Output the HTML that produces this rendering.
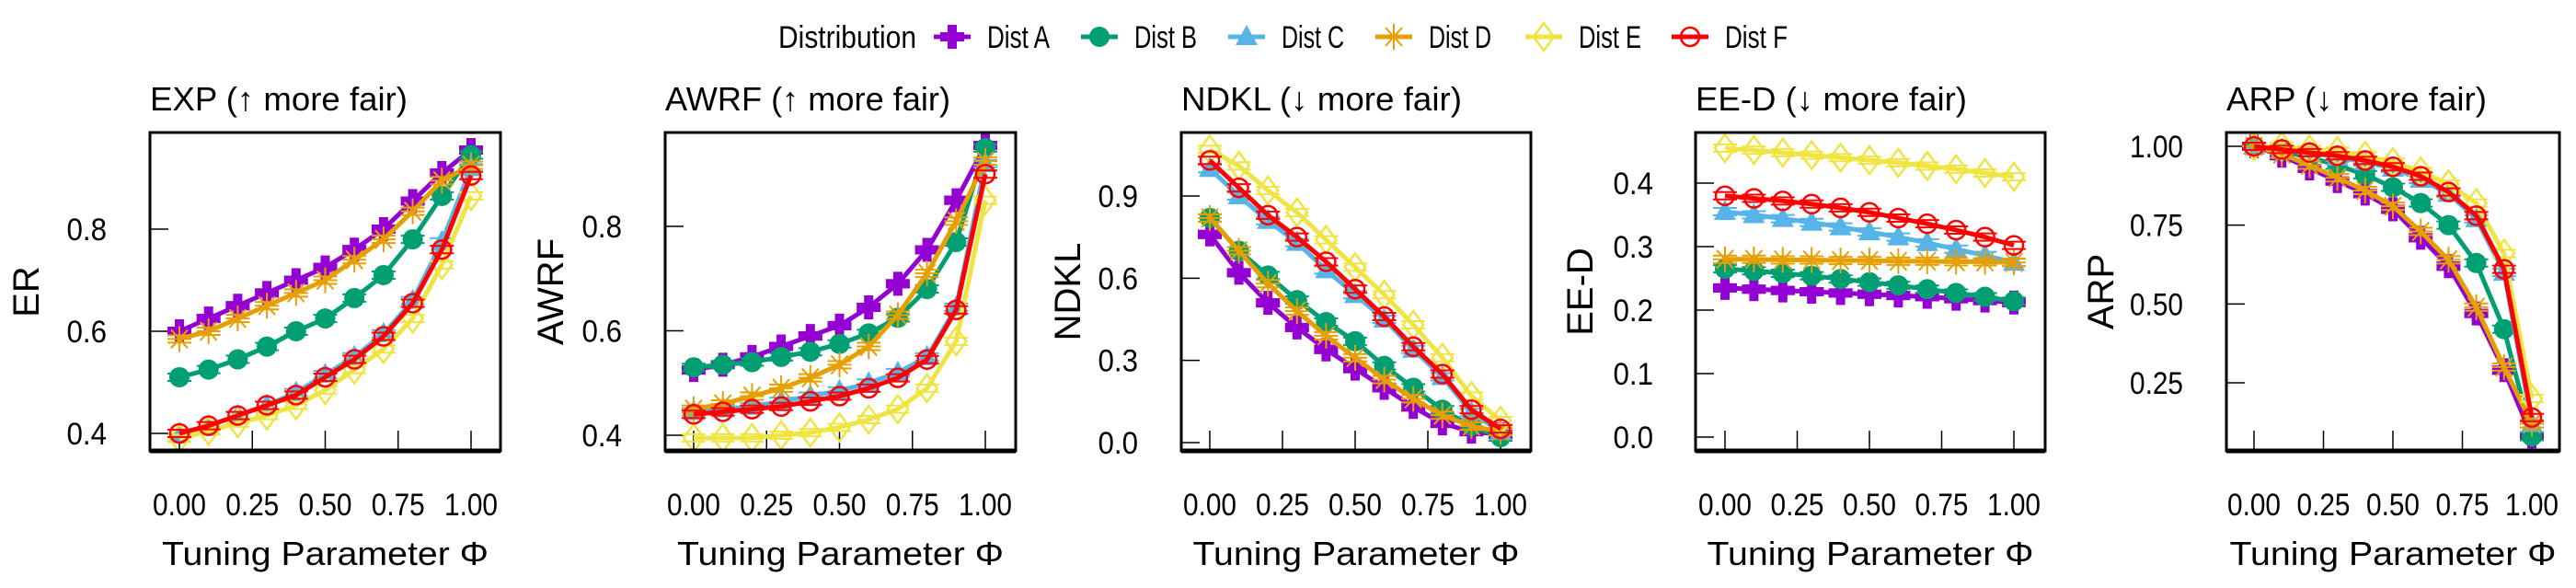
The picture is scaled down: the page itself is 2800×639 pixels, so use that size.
<!DOCTYPE html>
<html><head><meta charset="utf-8"><style>
html,body{margin:0;padding:0;background:#fff;}
svg{display:block;font-family:"Liberation Sans",sans-serif;}
</style></head><body>
<svg id="chart" width="2800" height="639" viewBox="0 0 2800 639" xmlns="http://www.w3.org/2000/svg">
<g id="legend"></g>
<g id="panels"></g>
</svg>
<script>
const phi = [0,0.1,0.2,0.3,0.4,0.5,0.6,0.7,0.8,0.9,1.0];
const seriesNames = ["Dist A","Dist B","Dist C","Dist D","Dist E","Dist F"];
const xTicks = [0,0.25,0.5,0.75,1.0];
const xTickLabels = ["0.00","0.25","0.50","0.75","1.00"];

const erA=[0.60,0.625,0.65,0.675,0.70,0.725,0.76,0.80,0.855,0.91,0.955];
const erB=[0.51,0.525,0.545,0.57,0.60,0.625,0.665,0.71,0.78,0.865,0.945];
const erC=[0.40,0.415,0.435,0.455,0.48,0.515,0.55,0.595,0.66,0.775,0.92];
const erD=[0.585,0.60,0.625,0.65,0.675,0.70,0.74,0.78,0.835,0.895,0.925];
const erE=[0.39,0.405,0.42,0.435,0.455,0.485,0.525,0.565,0.625,0.73,0.865];
const erF=[0.40,0.415,0.435,0.455,0.475,0.51,0.545,0.59,0.655,0.76,0.905];

const awA=[0.525,0.535,0.55,0.57,0.59,0.61,0.645,0.69,0.755,0.85,0.955];
const awB=[0.53,0.535,0.54,0.55,0.56,0.575,0.595,0.625,0.68,0.77,0.95];
const awC=[0.445,0.45,0.455,0.465,0.475,0.485,0.50,0.52,0.55,0.645,0.92];
const awD=[0.45,0.46,0.475,0.49,0.51,0.535,0.57,0.63,0.71,0.81,0.925];
const awE=[0.395,0.395,0.395,0.40,0.405,0.415,0.43,0.45,0.49,0.58,0.85];
const awF=[0.44,0.445,0.45,0.455,0.465,0.475,0.49,0.51,0.545,0.64,0.90];

const ndA=[0.76,0.62,0.51,0.42,0.34,0.27,0.20,0.13,0.07,0.04,0.03];
const ndB=[0.82,0.70,0.61,0.52,0.44,0.37,0.28,0.20,0.12,0.06,0.02];
const ndC=[1.00,0.90,0.81,0.73,0.63,0.54,0.45,0.34,0.24,0.11,0.04];
const ndD=[0.82,0.70,0.58,0.48,0.39,0.31,0.23,0.16,0.10,0.06,0.04];
const ndE=[1.07,1.01,0.92,0.84,0.74,0.64,0.54,0.43,0.31,0.17,0.08];
const ndF=[1.03,0.93,0.83,0.75,0.66,0.56,0.46,0.35,0.25,0.12,0.05];

const edA=[0.235,0.233,0.231,0.229,0.227,0.225,0.223,0.221,0.218,0.215,0.212];
const edB=[0.265,0.262,0.258,0.254,0.249,0.244,0.239,0.233,0.227,0.221,0.214];
const edC=[0.355,0.35,0.344,0.338,0.331,0.323,0.315,0.306,0.296,0.286,0.275];
const edD=[0.28,0.28,0.279,0.279,0.278,0.278,0.277,0.277,0.276,0.276,0.275];
const edE=[0.455,0.452,0.448,0.444,0.440,0.436,0.432,0.427,0.422,0.416,0.41];
const edF=[0.38,0.376,0.372,0.367,0.361,0.354,0.345,0.336,0.326,0.315,0.302];

const arA=[1.0,0.97,0.93,0.89,0.85,0.80,0.71,0.62,0.47,0.29,0.08];
const arB=[1.0,0.985,0.965,0.94,0.91,0.87,0.82,0.75,0.63,0.42,0.08];
const arC=[1.0,0.99,0.98,0.965,0.95,0.93,0.895,0.85,0.77,0.60,0.12];
const arD=[1.0,0.975,0.94,0.90,0.86,0.81,0.73,0.64,0.49,0.30,0.12];
const arE=[1.0,1.0,0.99,0.985,0.97,0.95,0.92,0.88,0.82,0.66,0.20];
const arF=[1.0,0.99,0.98,0.97,0.955,0.935,0.905,0.855,0.78,0.61,0.14];

const erTicks=[0.4,0.6,0.8], erTickLabels=["0.4","0.6","0.8"];
const awTicks=[0.4,0.6,0.8], awTickLabels=["0.4","0.6","0.8"];
const ndTicks=[0,0.3,0.6,0.9], ndTickLabels=["0.0","0.3","0.6","0.9"];
const edTicks=[0,0.1,0.2,0.3,0.4], edTickLabels=["0.0","0.1","0.2","0.3","0.4"];
const arTicks=[0.25,0.5,0.75,1.0], arTickLabels=["0.25","0.50","0.75","1.00"];

const colors=["#9400D3","#009E73","#56B4E9","#E69F00","#F0E442","#FF0000"];
const markers=["plus","circlefill","triangle","star","diamond","circle"];
const NS="http://www.w3.org/2000/svg";

function mk(tag,attrs,parent){const e=document.createElementNS(NS,tag);for(const k in attrs)e.setAttribute(k,attrs[k]);parent.appendChild(e);return e;}

function drawMarker(g,type,x,y,c){
  let m;
  if(type==="plus"){
    m=mk("path",{d:`M${x-5},${y-13}h10v8h8v10h-8v8h-10v-8h-8v-10h8z`,fill:c},g);
  }else if(type==="circlefill"){
    m=mk("circle",{cx:x,cy:y,r:11,fill:c},g);
  }else if(type==="triangle"){
    m=mk("path",{d:`M${x},${y-13}L${x+12},${y+9}L${x-12},${y+9}Z`,fill:c},g);
  }else if(type==="star"){
    m=mk("path",{d:`M${x-13},${y}h26M${x},${y-14}v28M${x-9},${y-10}l18,20M${x+9},${y-10}l-18,20`,stroke:c,"stroke-width":2,fill:"none"},g);
  }else if(type==="diamond"){
    m=mk("path",{d:`M${x},${y-15}L${x+11},${y}L${x},${y+15}L${x-11},${y}Z`,stroke:c,"stroke-width":2.5,fill:"none"},g);
  }else{
    m=mk("circle",{cx:x,cy:y,r:10,stroke:c,"stroke-width":2.5,fill:"none"},g);
  }
  
  
  return m;
}

const panels=[
 {id:"exp",title:"EXP (\u2191 more fair)",ylab:"ER",x0:163,x1:544,top:144,bot:490,px0:195,px1:512,v0:0.4,y0:471,v1:0.8,y1:249,ticks:erTicks,labels:erTickLabels,data:[erA,erB,erC,erD,erE,erF],tw:280,ylx:28,lx:116},
 {id:"awrf",title:"AWRF (\u2191 more fair)",ylab:"AWRF",x0:723,x1:1104,top:144,bot:490,px0:754,px1:1071,v0:0.4,y0:473,v1:0.8,y1:246,ticks:awTicks,labels:awTickLabels,data:[awA,awB,awC,awD,awE,awF],tw:310,ylx:598,lx:676},
 {id:"ndkl",title:"NDKL (\u2193 more fair)",ylab:"NDKL",x0:1284,x1:1664,top:144,bot:490,px0:1315,px1:1631,v0:0,y0:481,v1:0.9,y1:213,ticks:ndTicks,labels:ndTickLabels,data:[ndA,ndB,ndC,ndD,ndE,ndF],tw:305,ylx:1160,lx:1237},
 {id:"eed",title:"EE-D (\u2193 more fair)",ylab:"EE-D",x0:1843,x1:2223,top:144,bot:490,px0:1875,px1:2189,v0:0,y0:475,v1:0.4,y1:199,ticks:edTicks,labels:edTickLabels,data:[edA,edB,edC,edD,edE,edF],tw:295,ylx:1717,lx:1797},
 {id:"arp",title:"ARP (\u2193 more fair)",ylab:"ARP",x0:2420,x1:2782,top:144,bot:490,px0:2450,px1:2752,v0:0.25,y0:416,v1:1.0,y1:159,ticks:arTicks,labels:arTickLabels,data:[arA,arB,arC,arD,arE,arF],tw:283,ylx:2283,lx:2373}
];

const root=document.getElementById("panels");
panels.forEach(p=>{
  const g=mk("g",{},root);
  
  
  const X=v=>p.px0+(p.px1-p.px0)*v;
  const Y=v=>p.y0+(p.y1-p.y0)*(v-p.v0)/(p.v1-p.v0);
  const t=mk("text",{x:p.x0,y:120,"font-size":36,textLength:p.tw,lengthAdjust:"spacingAndGlyphs"},g);
  t.textContent=p.title;
  
  
  const yl=mk("text",{transform:`translate(${p.ylx+14},317) rotate(-90)`,"text-anchor":"middle","font-size":40},g);
  yl.textContent=p.ylab;
  
  
  const xl=mk("text",{x:(p.x0+p.x1)/2,y:614,"text-anchor":"middle","font-size":36,textLength:355,lengthAdjust:"spacingAndGlyphs"},g);
  xl.textContent="Tuning Parameter \u03A6";
  
  
  p.ticks.forEach((v,i)=>{
    const yy=Y(v);
    const tk=mk("line",{x1:p.x0,x2:p.x0+20,y1:yy,y2:yy,stroke:"#000","stroke-width":1.5},g);
    
    
    const lb=mk("text",{x:p.lx,y:yy+12,"text-anchor":"end","font-size":34,textLength:p.labels[i].length*14.5,lengthAdjust:"spacingAndGlyphs"},g);
    lb.textContent=p.labels[i];
    
    
  });
  xTicks.forEach((v,i)=>{
    const xx=X(v);
    const tk=mk("line",{x1:xx,x2:xx,y1:p.bot,y2:p.bot-22,stroke:"#000","stroke-width":1.5},g);
    
    
    const lb=mk("text",{x:xx,y:560,"text-anchor":"middle","font-size":34,textLength:58,lengthAdjust:"spacingAndGlyphs"},g);
    lb.textContent=xTickLabels[i];
    
    
  });
  p.data.forEach((arr,si)=>{
    const sg=mk("g",{},g);
    
    
    const pts=arr.map((v,i)=>X(phi[i])+","+Y(v)).join(" ");
    const pl=mk("polyline",{points:pts,fill:"none",stroke:colors[si],"stroke-width":5,"stroke-linejoin":"round"},sg);
    
    
    arr.forEach((v,i)=>{
      const xx=X(phi[i]),yy=Y(v);
      const eb=mk("path",{d:`M${xx-13},${yy-4}h26M${xx-13},${yy+4}h26`,stroke:colors[si],"stroke-width":2},sg);
      
      
      drawMarker(sg,markers[si],xx,yy,colors[si]);
    });
  });
  const fr=mk("rect",{x:p.x0,y:p.top,width:p.x1-p.x0,height:p.bot-p.top,fill:"none",stroke:"#000","stroke-width":3},g);
  
  
  const bl=mk("line",{x1:p.x0,x2:p.x1,y1:p.bot,y2:p.bot,stroke:"#000","stroke-width":5},g);
  
  
});

const lg=document.getElementById("legend");
const lt=mk("text",{x:846,y:52,"font-size":34,textLength:150,lengthAdjust:"spacingAndGlyphs"},lg);
lt.textContent="Distribution";


const legX=[1035,1195,1355,1515,1678,1837];
seriesNames.forEach((n,i)=>{
  const eg=mk("g",{},lg);
  
  
  const ln=mk("line",{x1:legX[i]-20,x2:legX[i]+20,y1:40,y2:40,stroke:colors[i],"stroke-width":5},eg);
  
  
  drawMarker(eg,markers[i],legX[i],40,colors[i]);
  const tx=mk("text",{x:legX[i]+38,y:52,"font-size":34,textLength:68,lengthAdjust:"spacingAndGlyphs"},eg);
  tx.textContent=n;
  
  
});
</script>
</body></html>
